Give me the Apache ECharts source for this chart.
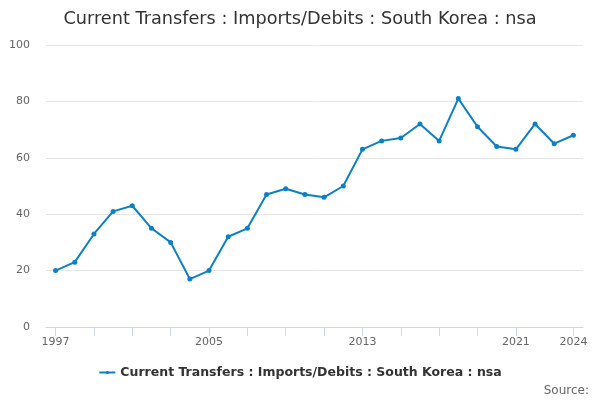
<!DOCTYPE html>
<html>
<head>
<meta charset="utf-8">
<script src="https://cdn.jsdelivr.net/npm/echarts@6/dist/echarts.min.js"></script>
<style>html,body{margin:0;padding:0;background:#fff}#c{width:600px;height:400px}</style>
</head>
<body>
<div id="c"></div>
<script>
var years = ['1997','1998','1999','2000','2001','2002','2003','2004','2005','2006','2007','2008','2009','2010','2011','2012','2013','2014','2015','2016','2017','2018','2019','2020','2021','2022','2023','2024'];
var values = [20,23,33,41,43,35,30,17,20,32,35,47,49,47,46,50,63,66,67,72,66,81,71,64,63,72,65,68];
var seriesName = 'Current Transfers : Imports/Debits : South Korea : nsa';
var titleText = 'Current Transfers : Imports/Debits : South Korea : nsa';
var labelYears = ['1997','2005','2013','2021','2024'];

var chart = echarts.init(document.getElementById('c'));
chart.setOption({
  animation: false,
  title: {
    text: titleText, left: 'center', top: 5,
    textStyle: {fontFamily: 'DejaVu Sans', fontSize: 17.7, fontWeight: 'normal', color: '#333'}
  },
  grid: {left: 46, right: 17, top: 45, bottom: 73},
  legend: {
    data: [seriesName], bottom: 16, left: 'center', itemWidth: 16, itemHeight: 4, itemGap: 5,
    textStyle: {fontFamily: 'DejaVu Sans', fontSize: 12.5, fontWeight: 'bold', color: '#333'}
  },
  graphic: [{
    type: 'text', right: 11, bottom: 3,
    style: {text: 'Source:', font: '12px DejaVu Sans', fill: '#666'}
  }],
  xAxis: {
    type: 'category', data: years, boundaryGap: true,
    axisLine: {show: true, lineStyle: {color: '#ccd6eb'}},
    axisTick: {
      show: true, alignWithLabel: true, length: 9, lineStyle: {color: '#ccd6eb', width: 1},
      interval: function (i) { return (i % 2 === 0 && i <= 24) || i === 27; }
    },
    axisLabel: {
      color: '#666', fontFamily: 'DejaVu Sans', fontSize: 11, margin: 10,
      interval: function (i, v) { return labelYears.indexOf(v) >= 0; }
    },
    splitLine: {show: false}
  },
  yAxis: {
    type: 'value', min: 0, max: 100, interval: 20,
    axisLine: {show: false}, axisTick: {show: false},
    axisLabel: {color: '#666', fontFamily: 'DejaVu Sans', fontSize: 11, margin: 16},
    splitLine: {lineStyle: {color: '#e6e6e6'}}
  },
  series: [{
    name: seriesName, type: 'line', data: values,
    symbol: 'circle', symbolSize: 5, showSymbol: true,
    itemStyle: {color: '#0c80c4'},
    lineStyle: {color: '#0c80c4', width: 2}
  }]
});
</script>
</body>
</html>
